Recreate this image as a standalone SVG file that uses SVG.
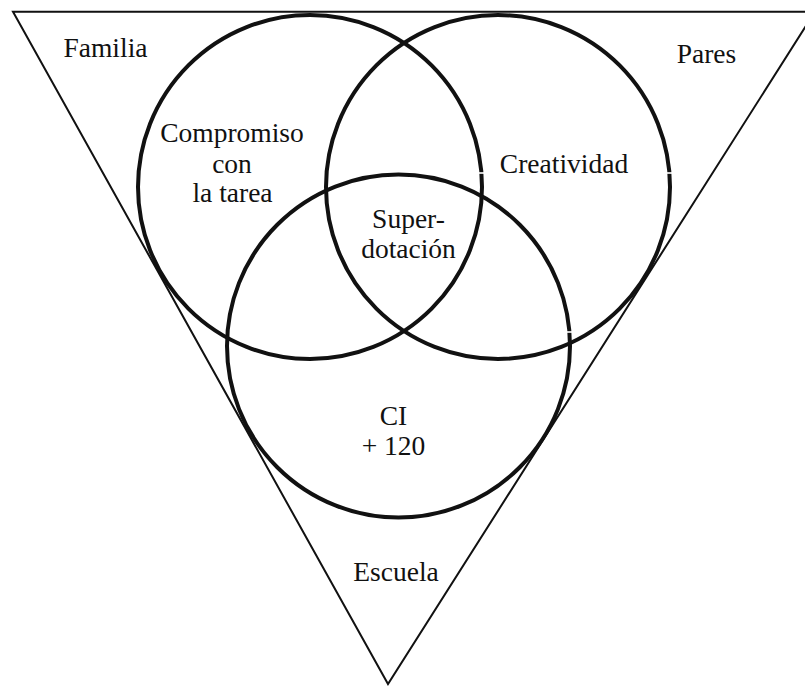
<svg xmlns="http://www.w3.org/2000/svg" width="805" height="686" viewBox="0 0 805 686">
  <style>
    .tri { fill: none; stroke: #111; stroke-width: 2; stroke-linejoin: miter; }
    .ring { fill: none; stroke: #111; stroke-width: 4; }
    .nick { stroke: #fff; stroke-width: 1.6; }
    text { font-family: "Liberation Serif", "Times New Roman", serif; font-size: 27.5px; fill: #111; text-anchor: middle; }
  </style>
  <rect width="805" height="686" fill="#fff"/>

  <!-- outer context triangle -->
  <g id="context">
    <polygon class="tri" points="13,11.7 815,11.7 388,684"/>
    <text x="105.5" y="57">Familia</text>
    <text x="706.5" y="63">Pares</text>
    <text x="396" y="581">Escuela</text>
  </g>

  <!-- three overlapping rings -->
  <g id="compromiso">
    <circle class="ring" cx="310" cy="187" r="172"/>
    <line class="nick" x1="477" y1="173" x2="486" y2="173"/>
    <text x="232" y="142">Compromiso</text>
    <text x="232" y="173">con</text>
    <text x="232.5" y="202">la tarea</text>
  </g>

  <g id="creatividad">
    <circle class="ring" cx="498" cy="187" r="172"/>
    <line class="nick" x1="665" y1="173" x2="674" y2="173"/>
    <text x="564" y="173">Creatividad</text>
  </g>

  <g id="ci">
    <circle class="ring" cx="398.5" cy="346" r="171.5"/>
    <line class="nick" x1="564" y1="332" x2="573" y2="332"/>
    <text x="393.5" y="425">CI</text>
    <text x="393.5" y="455">+ 120</text>
  </g>

  <g id="superdotacion">
    <text x="408.5" y="228">Super-</text>
    <text x="408.5" y="258">dotación</text>
  </g>
</svg>
